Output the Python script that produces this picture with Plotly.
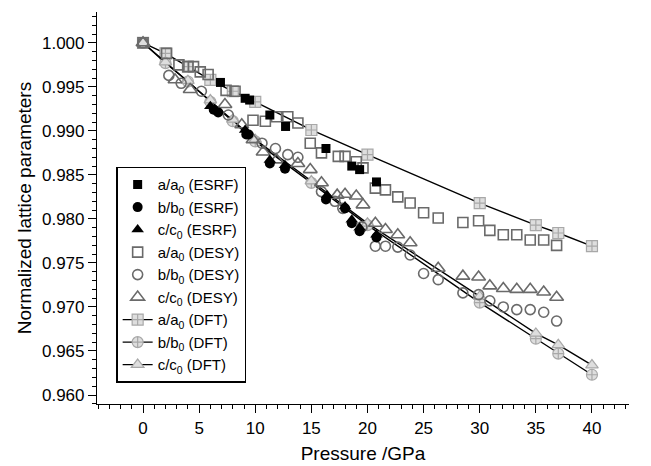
import plotly.graph_objects as go

# -------------------------
# DATA
# -------------------------
# ESRF (filled black)
esrf_a_p = [6.9, 9.1, 9.5, 11.3, 12.7, 16.3, 18.6, 19.3, 20.8]
esrf_a_v = [0.9955, 0.9937, 0.9935, 0.9918, 0.9905, 0.9880, 0.9860, 0.9856, 0.9842]

esrf_b_p = [6.3, 6.7, 9.2, 9.4, 11.3, 12.65, 16.3, 18.0, 18.6, 19.3, 20.8]
esrf_b_v = [0.9924, 0.9921, 0.9896, 0.9896, 0.9863, 0.9857, 0.9822, 0.9812, 0.9795, 0.9786, 0.9779]

esrf_c_p = [6.0, 9.1, 11.3, 12.65, 16.4, 18.0, 18.6, 19.3, 20.8]
esrf_c_v = [0.9928, 0.9901, 0.9867, 0.9861, 0.9827, 0.9814, 0.9799, 0.9790, 0.9782]

# DESY (open grey)
desy_a_p = [0.0, 2.1, 3.2, 4.0, 4.5, 5.1, 5.8, 7.4, 8.2, 9.8, 10.9, 11.9, 12.9, 13.8,
            14.9, 15.9, 17.4, 18.0, 19.0, 19.6, 20.7, 21.6, 22.7, 23.8, 25.0, 26.3,
            28.5, 29.9, 30.9, 32.1, 33.3, 34.5, 35.7, 36.85]
desy_a_v = [1.0000, 0.9988, 0.9975, 0.9973, 0.9973, 0.9967, 0.9964, 0.9946, 0.9945, 0.9912,
            0.9911, 0.9916, 0.9916, 0.9909, 0.9886, 0.9875, 0.9871, 0.9871, 0.9865, 0.9858,
            0.9835, 0.9833, 0.9825, 0.9818, 0.9807, 0.9801, 0.9796, 0.9798, 0.9787, 0.9782,
            0.9782, 0.9776, 0.9776, 0.9770]

desy_b_p = [0.0, 2.3, 3.4, 5.2, 7.6, 10.6, 11.8, 12.9, 13.8, 15.9, 17.1, 17.8,
            19.5, 20.7, 21.6, 22.7, 23.8, 25.0, 26.3, 28.5, 29.9, 30.9, 32.1,
            33.3, 34.5, 35.7, 36.85]
desy_b_v = [1.0000, 0.9963, 0.9954, 0.9945, 0.9918, 0.9886, 0.9880, 0.9873, 0.9870, 0.9831,
            0.9820, 0.9812, 0.9791, 0.9769, 0.9769, 0.9768, 0.9759, 0.9738, 0.9731, 0.9716,
            0.9714, 0.9707, 0.9700, 0.9697, 0.9697, 0.9694, 0.9684]

desy_c_p = [0.0, 2.85, 4.2, 7.3, 8.8, 9.8, 10.7, 11.9, 13.8, 14.9, 15.9, 17.3, 18.0,
            19.0, 19.6, 20.7, 21.6, 22.7, 23.8, 26.3, 28.5, 29.9, 30.9, 32.1,
            33.3, 34.5, 35.7, 36.85]
desy_c_v = [1.0000, 0.9958, 0.9947, 0.9930, 0.9907, 0.9890, 0.9876, 0.9867, 0.9863, 0.9856,
            0.9841, 0.9827, 0.9828, 0.9826, 0.9816, 0.9795, 0.9788, 0.9782, 0.9773, 0.9744,
            0.9735, 0.9734, 0.9724, 0.9721, 0.9720, 0.9720, 0.9717, 0.9711]

# DFT (light grey markers + black line)
dft_a_p = [0, 2, 4, 6, 8, 10, 15, 20, 30, 35, 37, 40]
dft_a_v = [1.0000, 0.9988, 0.9973, 0.9958, 0.9945, 0.9933, 0.9901, 0.9873,
           0.9818, 0.9793, 0.9784, 0.9769]

dft_b_p = [0, 2, 4, 6, 8, 10, 15, 20, 30, 35, 37, 40]
dft_b_v = [1.0000, 0.9977, 0.9956, 0.9933, 0.9911, 0.9888, 0.9841, 0.9793,
           0.9705, 0.9664, 0.9647, 0.9623]

dft_c_p = [0, 2, 4, 6, 8, 10, 15, 20, 30, 35, 37, 40]
dft_c_v = [1.0000, 0.9978, 0.9957, 0.9935, 0.9913, 0.9890, 0.9843, 0.9795,
           0.9712, 0.9670, 0.9657, 0.9634]

x_ticks = [0, 5, 10, 15, 20, 25, 30, 35, 40]
y_ticks = [0.960, 0.965, 0.970, 0.975, 0.980, 0.985, 0.990, 0.995, 1.000]

FONT = "Liberation Sans, Arial, sans-serif"
DESY_GREY = "#6a6a6a"
DFT_FILL = "#dedede"
DFT_EDGE = "#a8a8a8"

fig = go.Figure()

# -------------------------
# DFT LINES + MARKERS
# -------------------------
for p, v, sym, name in [
    (dft_a_p, dft_a_v, "square-cross", "a/a<sub>0</sub> (DFT)"),
    (dft_b_p, dft_b_v, "circle-cross", "b/b<sub>0</sub> (DFT)"),
    (dft_c_p, dft_c_v, "triangle-up", "c/c<sub>0</sub> (DFT)"),
]:
    fig.add_trace(go.Scatter(
        x=p, y=v, mode="lines+markers", name=name,
        line=dict(color="black", width=1.4),
        marker=dict(symbol=sym, size=11, color=DFT_FILL,
                    line=dict(color=DFT_EDGE, width=1.2)),
    ))

# -------------------------
# DESY (open grey)
# -------------------------
for p, v, sym, size, name in [
    (desy_a_p, desy_a_v, "square-open", 10, "a/a<sub>0</sub> (DESY)"),
    (desy_b_p, desy_b_v, "circle-open", 10, "b/b<sub>0</sub> (DESY)"),
    (desy_c_p, desy_c_v, "triangle-up-open", 12, "c/c<sub>0</sub> (DESY)"),
]:
    fig.add_trace(go.Scatter(
        x=p, y=v, mode="markers", name=name,
        marker=dict(symbol=sym, size=size, color=DESY_GREY,
                    line=dict(color=DESY_GREY, width=1.6)),
    ))

# -------------------------
# ESRF (filled black)
# -------------------------
for p, v, sym, size, name in [
    (esrf_a_p, esrf_a_v, "square", 9, "a/a<sub>0</sub> (ESRF)"),
    (esrf_b_p, esrf_b_v, "circle", 10, "b/b<sub>0</sub> (ESRF)"),
    (esrf_c_p, esrf_c_v, "triangle-up", 11, "c/c<sub>0</sub> (ESRF)"),
]:
    fig.add_trace(go.Scatter(
        x=p, y=v, mode="markers", name=name,
        marker=dict(symbol=sym, size=size, color="black"),
    ))

# legend order: ESRF, DESY, DFT
order = [6, 7, 8, 3, 4, 5, 0, 1, 2]
for rank, idx in enumerate(order):
    fig.data[idx].legendrank = rank + 1

# -------------------------
# LAYOUT
# (page body adds an 8px offset, so margins are shifted by 8)
# -------------------------
fig.update_layout(
    width=651, height=466,
    paper_bgcolor="white", plot_bgcolor="white",
    font=dict(family=FONT, size=17, color="black"),
    margin=dict(l=89, r=30, t=4, b=70),
    showlegend=True,
    legend=dict(
        x=0.036, y=0.605, xanchor="left", yanchor="top",
        bgcolor="white", bordercolor="black", borderwidth=1.5,
        font=dict(family=FONT, size=15, color="black"),
        itemwidth=30, tracegroupgap=0,
    ),
    xaxis=dict(
        range=[-4.1, 43.3], automargin=False,
        tickmode="array", tickvals=x_ticks,
        showgrid=False, zeroline=False,
        showline=True, linecolor="black", linewidth=1.2,
        ticks="outside", ticklen=8, tickwidth=1.2, tickcolor="black",
        minor=dict(dtick=1, tick0=0, ticks="outside", ticklen=4,
                   tickwidth=1, tickcolor="black", showgrid=False),
        tickfont=dict(size=17),
        title=dict(text="Pressure /GPa", font=dict(size=19), standoff=10),
    ),
    yaxis=dict(
        range=[0.95898, 1.0035], automargin=False,
        tickmode="array", tickvals=y_ticks,
        tickformat=".3f",
        showgrid=False, zeroline=False,
        showline=True, linecolor="black", linewidth=1.2,
        ticks="outside", ticklen=8, tickwidth=1.2, tickcolor="black",
        minor=dict(dtick=0.001, tick0=0.96, ticks="outside", ticklen=4,
                   tickwidth=1, tickcolor="black", showgrid=False),
        tickfont=dict(size=17),
        title=dict(text="Normalized lattice parameters", font=dict(size=19), standoff=5),
    ),
)

fig.write_html("out.html")
